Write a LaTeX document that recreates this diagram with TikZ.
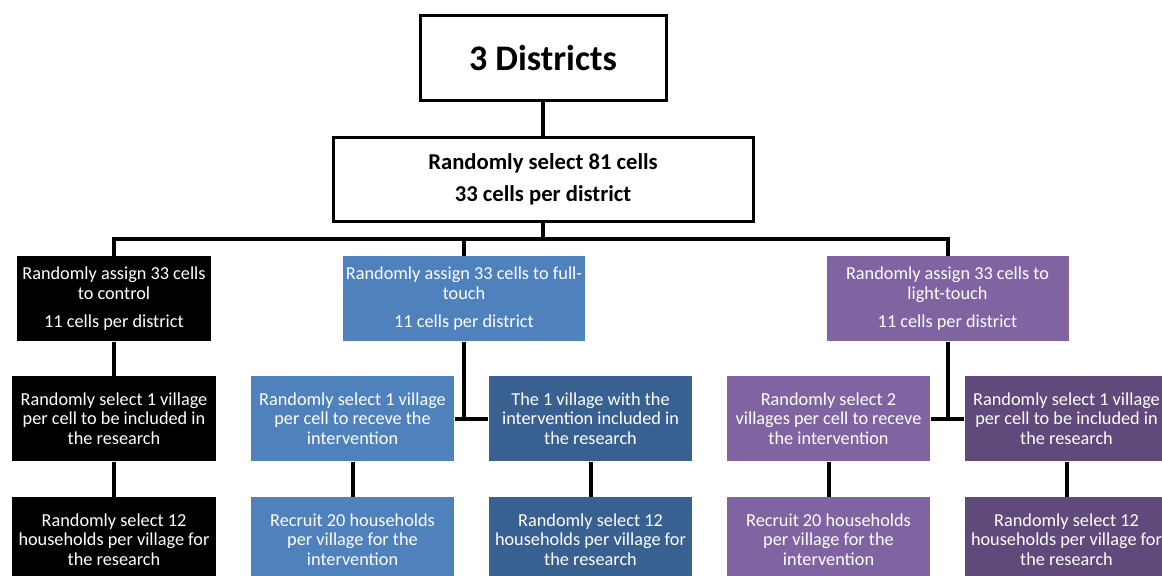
\documentclass[tikz,border=0pt]{standalone}
\usepackage{fontspec}
\setmainfont{Carlito}
\usetikzlibrary{positioning}
\definecolor{fullblue}{RGB}{79,129,189}
\definecolor{fulldark}{RGB}{56,96,145}
\definecolor{lightpurple}{RGB}{128,100,162}
\definecolor{lightdark}{RGB}{96,74,123}
\tikzset{every picture/.style={line width=0.75pt}}
\tikzset{
  headbox/.style={draw, line width=2.25pt, fill=white, align=center, inner sep=0.75pt, minimum height=63.75pt},
  stepbox/.style={text=white, align=center, inner sep=0.5pt, minimum width=152.5pt, minimum height=63.75pt, font=\fontsize{13.7}{14.8}\selectfont},
  link/.style={line width=3pt}
}

\begin{document}
\begin{tikzpicture}[x=0.75pt,y=0.75pt,yscale=-1,xscale=1]
\useasboundingbox (0,0) rectangle (1162,575);

% Top boxes
\node [headbox, minimum width=184.5pt, font=\bfseries\fontsize{27}{30}\selectfont] (districts) at (543,57.5) {3 Districts};
\node [headbox, minimum width=315pt, minimum height=63pt, font=\bfseries\fontsize{17}{18}\selectfont] (cells) at (543,179) {Randomly select 81 cells\\[6pt]33 cells per district};

% Arms
\node [stepbox, fill=black, minimum width=145.5pt] (control) at (114,298.5) {Randomly assign 33 cells\\to control\\[6pt]11 cells per district};
\node [stepbox, fill=fullblue, minimum width=181.5pt] (full) at (464,298.5) {Randomly assign 33 cells to full-\\touch\\[6pt]11 cells per district};
\node [stepbox, fill=lightpurple, minimum width=181.5pt] (light) at (947.5,298.5) {Randomly assign 33 cells to\\light-touch\\[6pt]11 cells per district};

% Villages
\node [stepbox, fill=black] (controlvillage) at (114,418.5) {Randomly select 1 village\\per cell to be included in\\the research};
\node [stepbox, fill=fullblue] (fullvillage) at (352.5,418.5) {Randomly select 1 village\\per cell to receve the\\intervention};
\node [stepbox, fill=fulldark] (fullresearch) at (590.5,418.5) {The 1 village with the\\intervention included in\\the research};
\node [stepbox, fill=lightpurple] (lightvillage) at (828.5,418.5) {Randomly select 2\\villages per cell to receve\\the intervention};
\node [stepbox, fill=lightdark] (lightresearch) at (1066.5,418.5) {Randomly select 1 village\\per cell to be included in\\the research};

% Households
\node [stepbox, fill=black] (controlhh) at (114,539.5) {Randomly select 12\\households per village for\\the research};
\node [stepbox, fill=fullblue] (fullhh) at (352.5,539.5) {Recruit 20 households\\per village for the\\intervention};
\node [stepbox, fill=fulldark] (fullresearchhh) at (590.5,539.5) {Randomly select 12\\households per village for\\the research};
\node [stepbox, fill=lightpurple] (lighthh) at (828.5,539.5) {Recruit 20 households\\per village for the\\intervention};
\node [stepbox, fill=lightdark] (lightresearchhh) at (1066.5,539.5) {Randomly select 12\\households per village for\\the research};

% Connectors
\coordinate (bus) at (543,239);
\draw [link] (districts) -- (cells);
\draw [link] (cells) -- (bus);
\draw [link] (control) |- (bus) -| (light);
\draw [link] (full) -- (full |- bus);
\draw [link] (control) -- (controlvillage);
\draw [link] (controlvillage) -- (controlhh);
\draw [link] (full.south) |- (fullvillage);
\draw [link] (full.south) |- (fullresearch);
\draw [link] (fullvillage) -- (fullhh);
\draw [link] (fullresearch) -- (fullresearchhh);
\draw [link] (light.south) |- (lightvillage);
\draw [link] (light.south) |- (lightresearch);
\draw [link] (lightvillage) -- (lighthh);
\draw [link] (lightresearch) -- (lightresearchhh);

\end{tikzpicture}
\end{document}
